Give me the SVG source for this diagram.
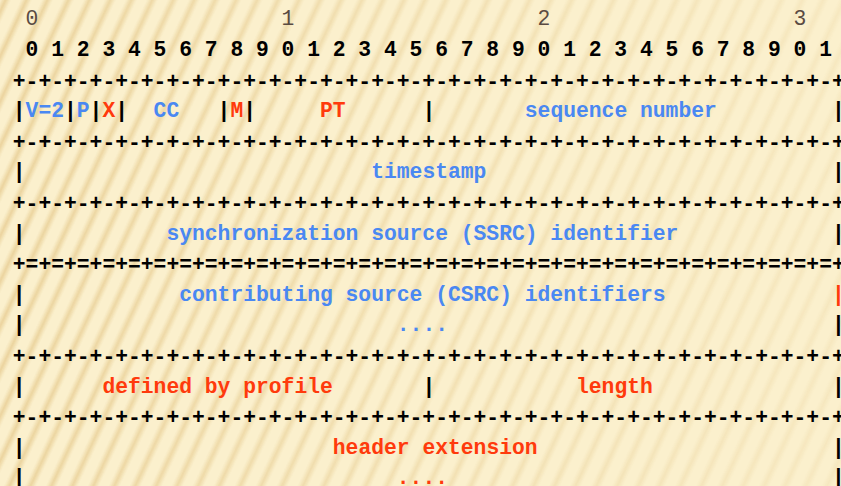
<svg xmlns="http://www.w3.org/2000/svg" width="841" height="486" viewBox="0 0 841 486">
<style>
text{font-family:"Courier New","Nimbus Mono PS","FreeMono","Liberation Mono",monospace;font-size:21.333px;font-weight:bold;white-space:pre}
.k{fill:#000}
.g{fill:#5a4b42;font-weight:normal}
.b{fill:#4a88f2}
.r{fill:#ff3a0c}
</style>
<defs>
<linearGradient id="sg" x1="0" y1="0" x2="1" y2="0">
<stop offset="0" stop-color="#e9d098" stop-opacity="0"/>
<stop offset="0.5" stop-color="#e9d098" stop-opacity="1"/>
<stop offset="1" stop-color="#e9d098" stop-opacity="0"/>
</linearGradient>
<pattern id="stripes" patternUnits="userSpaceOnUse" width="19" height="40" patternTransform="rotate(25)">
<rect x="0" y="0" width="10" height="40" fill="url(#sg)"/>
</pattern>
<linearGradient id="fade" x1="0" y1="0" x2="1" y2="0">
<stop offset="0" stop-color="#fff" stop-opacity="0.9"/>
<stop offset="0.45" stop-color="#fff" stop-opacity="0.55"/>
<stop offset="1" stop-color="#fff" stop-opacity="0.25"/>
</linearGradient>
<mask id="m"><rect width="841" height="486" fill="url(#fade)"/></mask>
</defs>
<rect width="841" height="486" fill="#fbf0cd"/>
<rect width="841" height="486" fill="url(#stripes)" mask="url(#m)"/>

<g id="bit-scale">
<text class="g" x="25.6" y="25">0</text>
<text class="g" x="281.6" y="25">1</text>
<text class="g" x="537.6" y="25">2</text>
<text class="g" x="793.6" y="25">3</text>
<text class="k" x="25.6" y="55.8">0 1 2 3 4 5 6 7 8 9 0 1 2 3 4 5 6 7 8 9 0 1 2 3 4 5 6 7 8 9 0 1</text>
</g>

<g id="separators">
<text class="k" x="12.8" y="87.5">+-+-+-+-+-+-+-+-+-+-+-+-+-+-+-+-+-+-+-+-+-+-+-+-+-+-+-+-+-+-+-+-+</text>
<text class="k" x="12.8" y="148.7">+-+-+-+-+-+-+-+-+-+-+-+-+-+-+-+-+-+-+-+-+-+-+-+-+-+-+-+-+-+-+-+-+</text>
<text class="k" x="12.8" y="209.9">+-+-+-+-+-+-+-+-+-+-+-+-+-+-+-+-+-+-+-+-+-+-+-+-+-+-+-+-+-+-+-+-+</text>
<text class="k" x="12.8" y="271.1">+=+=+=+=+=+=+=+=+=+=+=+=+=+=+=+=+=+=+=+=+=+=+=+=+=+=+=+=+=+=+=+=+</text>
<text class="k" x="12.8" y="362.9">+-+-+-+-+-+-+-+-+-+-+-+-+-+-+-+-+-+-+-+-+-+-+-+-+-+-+-+-+-+-+-+-+</text>
<text class="k" x="12.8" y="424.1">+-+-+-+-+-+-+-+-+-+-+-+-+-+-+-+-+-+-+-+-+-+-+-+-+-+-+-+-+-+-+-+-+</text>
</g>

<g id="row-fixed-1">
<text class="k" x="12.8" y="117.2">|</text>
<text class="b" x="25.6" y="117.2">V=2</text>
<text class="k" x="64" y="117.2">|</text>
<text class="b" x="76.8" y="117.2">P</text>
<text class="k" x="89.6" y="117.2">|</text>
<text class="r" x="102.4" y="117.2">X</text>
<text class="k" x="115.2" y="117.2">|</text>
<text class="b" x="153.6" y="117.2">CC</text>
<text class="k" x="217.6" y="117.2">|</text>
<text class="r" x="230.4" y="117.2">M</text>
<text class="k" x="243.2" y="117.2">|</text>
<text class="r" x="320" y="117.2">PT</text>
<text class="k" x="422.4" y="117.2">|</text>
<text class="b" x="524.8" y="117.2">sequence number</text>
<text class="k" x="832" y="117.2">|</text>
</g>

<g id="row-timestamp">
<text class="k" x="12.8" y="178.4">|</text>
<text class="b" x="371.2" y="178.4">timestamp</text>
<text class="k" x="832" y="178.4">|</text>
</g>

<g id="row-ssrc">
<text class="k" x="12.8" y="239.6">|</text>
<text class="b" x="166.4" y="239.6">synchronization source (SSRC) identifier</text>
<text class="k" x="832" y="239.6">|</text>
</g>

<g id="row-csrc">
<text class="k" x="12.8" y="300.8">|</text>
<text class="b" x="179.2" y="300.8">contributing source (CSRC) identifiers</text>
<text class="r" x="832" y="300.8">|</text>
<text class="k" x="12.8" y="331.4">|</text>
<text class="b" x="396.8" y="331.4">....</text>
<text class="k" x="832" y="331.4">|</text>
</g>

<g id="row-ext-header">
<text class="k" x="12.8" y="392.6">|</text>
<text class="r" x="102.4" y="392.6">defined by profile</text>
<text class="k" x="422.4" y="392.6">|</text>
<text class="r" x="576" y="392.6">length</text>
<text class="k" x="832" y="392.6">|</text>
</g>

<g id="row-ext">
<text class="k" x="12.8" y="453.8">|</text>
<text class="r" x="332.8" y="453.8">header extension</text>
<text class="k" x="832" y="453.8">|</text>
<text class="k" x="12.8" y="484.4">|</text>
<text class="r" x="396.8" y="484.4">....</text>
<text class="k" x="832" y="484.4">|</text>
</g>
</svg>
